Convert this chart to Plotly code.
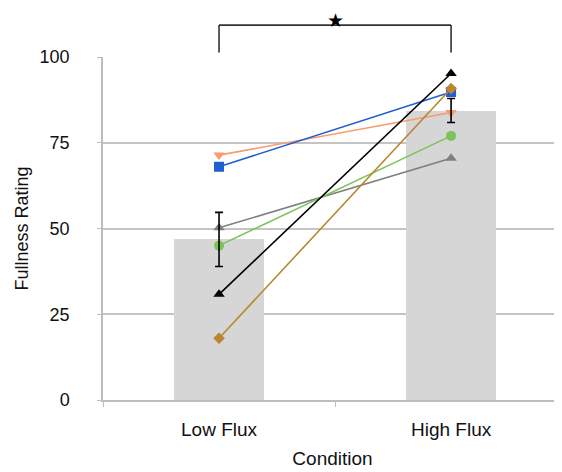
import plotly.graph_objects as go

categories = ["Low Flux", "High Flux"]
bar_means = [46.8, 84.3]
err_plus = [7.9, 3.6]
err_minus = [7.9, 3.4]

series_names = ["P1", "P2", "P3", "P4", "P5", "P6"]
series_values = [
    [71.4, 83.8],   # orange down-triangle
    [68.0, 89.8],   # blue square
    [50.2, 70.5],   # gray triangle
    [45.0, 77.0],   # green circle
    [30.8, 95.2],   # black triangle
    [18.0, 90.8],   # gold diamond
]
series_colors = ["#FA9A6E", "#1F5FCF", "#7F7F7F", "#7CC35A", "#000000", "#B8872F"]
series_symbols = ["triangle-down", "square", "triangle-up", "circle", "triangle-up", "diamond"]

y_ticks = [0, 25, 50, 75, 100]
bracket_low, bracket_high = 101.3, 109.3
star_top = 114.2

fig = go.Figure()
fig.add_trace(go.Bar(x=categories, y=bar_means, width=0.39,
                     marker=dict(color="#D6D6D6", line=dict(width=0)),
                     showlegend=False))
for name, vals, col, sym in zip(series_names, series_values, series_colors, series_symbols):
    fig.add_trace(go.Scatter(x=categories, y=vals, mode="lines+markers", name=name,
                             line=dict(color=col, width=1.6),
                             marker=dict(color=col, symbol=sym, size=10 if sym != "diamond" else 9),
                             showlegend=False))
fig.add_trace(go.Scatter(x=categories, y=bar_means, mode="markers",
                         marker=dict(size=1, color="rgba(0,0,0,0)"),
                         error_y=dict(type="data", symmetric=False, array=err_plus,
                                      arrayminus=err_minus, color="black", thickness=1.6, width=4),
                         showlegend=False))

ymax = 100
fig.add_shape(type="line", xref="x", yref="paper", x0=0, x1=0,
              y0=bracket_low / ymax, y1=bracket_high / ymax, line=dict(color="#333", width=1.6))
fig.add_shape(type="line", xref="x", yref="paper", x0=1, x1=1,
              y0=bracket_low / ymax, y1=bracket_high / ymax, line=dict(color="#333", width=1.6))
fig.add_shape(type="line", xref="x", yref="paper", x0=0, x1=1,
              y0=bracket_high / ymax, y1=bracket_high / ymax, line=dict(color="#333", width=1.6))
fig.add_annotation(x=0.5, xref="x", y=star_top / ymax, yref="paper", yanchor="top",
                   text="★", showarrow=False, borderpad=0,
                   font=dict(size=19, color="black", family="DejaVu Sans"))

fig.update_layout(
    width=554, height=464,
    margin=dict(l=95, r=0, t=49, b=72),
    plot_bgcolor="white", paper_bgcolor="white",
    font=dict(family="Liberation Sans, Arial, sans-serif", size=18, color="#111"),
    bargap=0,
)
fig.update_xaxes(type="category", range=[-0.5, 1.478], showline=True, linecolor="#BDBDBD",
                 linewidth=1.5, ticks="outside", tickson="boundaries", ticklen=5,
                 tickcolor="#BDBDBD", showgrid=False,
                 title=dict(text="Condition", standoff=13, font=dict(size=19)),
                 tickfont=dict(size=19), ticklabelstandoff=11)
fig.update_yaxes(range=[0, 100], tickvals=y_ticks, showline=True, linecolor="#BDBDBD",
                 linewidth=1.5, ticks="outside", ticklen=4, tickcolor="#BDBDBD",
                 showgrid=True, gridcolor="#C4C4C4", gridwidth=1.5, zeroline=False,
                 ticklabelstandoff=24, tickfont=dict(size=18),
                 title=dict(text="Fullness Rating", standoff=6, font=dict(size=18)))

fig.write_html("out.html")
